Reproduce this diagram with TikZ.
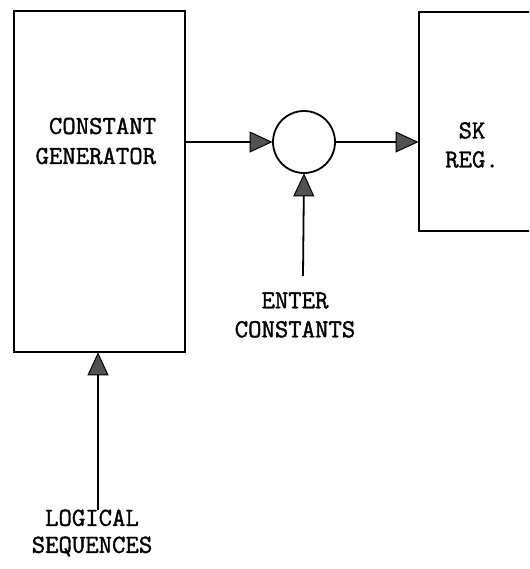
\documentclass[tikz,border=0pt]{standalone}
\usepackage{fontspec}
\newfontfamily\tw[FakeBold=1.4]{Latin Modern Mono}
\usetikzlibrary{arrows.meta}
\begin{document}
\begin{tikzpicture}[x=1pt,y=-1pt,
  line width=1.8pt,
  box/.style={draw, inner sep=0pt, anchor=north west},
  lbl/.style={font=\tw\fontsize{26}{#1}\selectfont, inner sep=0pt},
  arr/.style={-{Triangle[length=23pt,width=21pt,fill=black!68,line width=1pt]}, shorten >=-0.5pt}]
\useasboundingbox (0,0) rectangle (529,569);
\clip (0,0) rectangle (529,569);
\node[box, minimum width=171pt, minimum height=341pt] (gen) at (13,10) {};
\node[box, minimum width=160pt, minimum height=219pt] (sk) at (418,11) {};
\node[draw, circle, minimum size=62pt, inner sep=0pt] (sum) at (304,142) {};
\node[lbl=30, align=right, anchor=east] (gentext) at (157,141) {CONSTANT\\GENERATOR};
\node[lbl=29, align=center] (sktext) at (472,145) {SK\\REG.};
\node[lbl=29, align=center] (enter) at (295,315) {ENTER\\CONSTANTS};
\node[lbl=27, align=center] (logical) at (92,533) {LOGICAL\\SEQUENCES};
\coordinate (enterTop) at (303,276);
\coordinate (logTop) at (98,510);
\draw[arr] (gen.east |- sum.west) -- (sum.west);
\draw[arr] (sum.east) -- (sk.west |- sum.east);
\draw[arr] (enterTop) -- (sum.south);
\draw[arr] (logTop) -- (logTop |- gen.south);
\end{tikzpicture}
\end{document}
